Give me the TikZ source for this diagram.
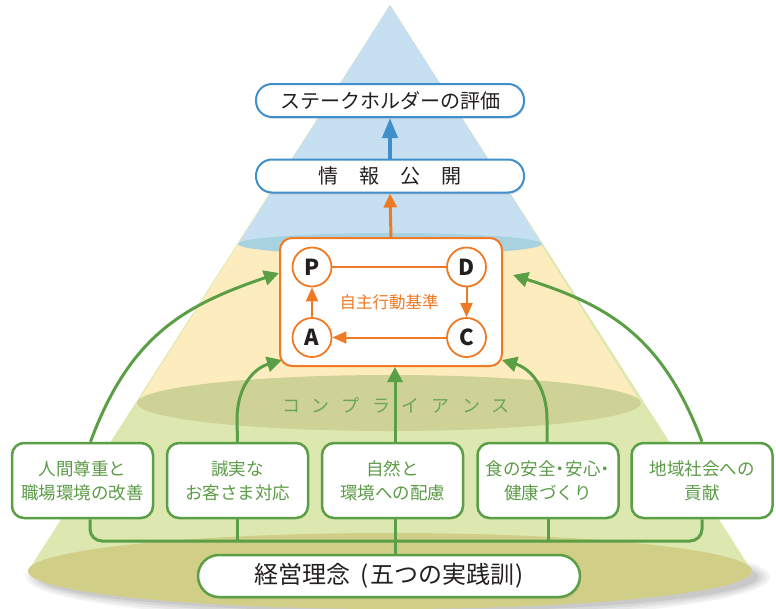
\documentclass[tikz,border=0pt]{standalone}
\usepackage{fontspec}
\setmainfont{Noto Sans CJK JP}
\usetikzlibrary{arrows.meta,shadows}
\definecolor{skyblue}{HTML}{C6DFF1}
\definecolor{skyring}{HTML}{A8D2E0}
\definecolor{cream}{HTML}{FDEDBE}
\definecolor{oliveA}{HTML}{CFD296}
\definecolor{leaf}{HTML}{DCE8B0}
\definecolor{oliveB}{HTML}{D1CF87}
\definecolor{grn}{HTML}{5A9E45}
\definecolor{grntext}{HTML}{5C9B47}
\definecolor{org}{HTML}{F07A24}
\definecolor{blu}{HTML}{3E8FCB}
\definecolor{ink}{HTML}{231F20}
\newcommand{\ndot}{\makebox[10pt]{・}}
\pgfdeclarelayer{back}
\pgfdeclarelayer{conn}
\pgfsetlayers{back,conn,main}
\begin{document}
\begin{tikzpicture}[x=1pt,y=-1pt,
  topbox/.style={draw=blu, line width=2pt, fill=white, rounded corners=16pt,
    minimum width=268pt, minimum height=33pt, inner sep=0pt,
    font=\fontsize{20}{24}\selectfont, text=ink,
    drop shadow={opacity=0.18, shadow xshift=1pt, shadow yshift=-2pt}},
  greenbox/.style={draw=grn, line width=2.5pt, fill=white, rounded corners=12pt,
    minimum width=141pt, minimum height=75pt, inner sep=0pt, align=center,
    font=\fontsize{17.5}{24}\selectfont, text=grntext},
  basebox/.style={draw=grn, line width=2.5pt, fill=white, rounded corners=21pt,
    minimum width=382pt, minimum height=42pt, inner sep=0pt,
    font=\fontsize{24}{26}\selectfont, text=ink,
    drop shadow={opacity=0.2, shadow xshift=1pt, shadow yshift=-2pt}},
  pdcabox/.style={draw=org, line width=2pt, fill=white, rounded corners=12pt,
    minimum width=222pt, minimum height=128pt, inner sep=0pt},
  circ/.style={circle, draw=org, line width=1.8pt, fill=white, minimum size=39pt,
    inner sep=0pt, font=\fontsize{22}{22}\selectfont\bfseries, text=ink},
  gline/.style={draw=grn, line width=3pt},
  garrow/.style={gline, -{Triangle[length=15pt,width=15pt]}},
  oline/.style={draw=org, line width=2pt},
  oarrow/.style={oline, -{Triangle[length=14pt,width=12pt]}},
  barrow/.style={draw=blu, line width=4pt, -{Triangle[length=20pt,width=15pt]}}
]
\useasboundingbox (0,0) rectangle (776,608);

% ---------- nodes ----------
\node[topbox] (eval) at (390,100.5) {ステークホルダーの評価};
\node[topbox] (info) at (390,176) {情\hspace{21pt}報\hspace{21pt}公\hspace{21pt}開};
\node[pdcabox] (pd) at (391,302) {};
\node[circ] (P) at (312,267) {P};
\node[circ] (D) at (466.5,267) {D};
\node[circ] (A) at (312,337.5) {A};
\node[circ] (C) at (466.5,337.5) {C};
\node[text=org, font=\fontsize{16.5}{18}\selectfont] (std) at (389,302) {自主行動基準};

\node[greenbox] (b1) at (82.5,480.5) {人間尊重と\\職場環境の改善};
\node[greenbox] (b2) at (237.5,480.5) {誠実な\\お客さま対応};
\node[greenbox] (b3) at (392.5,480.5) {自然と\\環境への配慮};
\node[greenbox] (b4) at (548,480.5) {食の安全\ndot 安心\ndot\\健康づくり};
\node[greenbox] (b5) at (702,480.5) {地域社会への\\貢献};
\node[basebox] (base) at (389,576) {経営理念\hspace{10pt}(\hspace{2pt}五つの実践訓\hspace{1pt})};

\node[text=grntext!90!white, font=\fontsize{18}{18}\selectfont] (comp) at (396,405)
  {コ\hspace{12pt}ン\hspace{12pt}プ\hspace{12pt}ラ\hspace{12pt}イ\hspace{12pt}ア\hspace{12pt}ン\hspace{12pt}ス};

\coordinate (bus) at (395,541);
\coordinate (cx) at ([xshift=4pt]pd.south);
\coordinate (t1) at ([yshift=29pt]pd.west);
\coordinate (t2) at (282,360);
\coordinate (t4) at (502,360);
\coordinate (t5) at ([xshift=10pt,yshift=27pt]pd.east);

% ---------- background cone ----------
\begin{pgfonlayer}{back}
  \foreach \k/\o in {0/0.05,1/0.05,2/0.06,3/0.07} {
    \fill[black, opacity=\o] (398,577) ellipse ({372-4*\k} and {44-3*\k});
  }
  \fill[leaf] (390,5) -- (28,571) -- (752,571) -- cycle;
  \fill[oliveB] (390,571) ellipse (362 and 38);
  \fill[cream] (390,5) -- (137,403) -- (641,403) -- cycle;
  \fill[oliveA] (389,403) ellipse (252 and 28);
  \fill[skyblue] (390,5) -- (238,244) -- (542,244) -- cycle;
  \fill[skyring] (390,244) ellipse (152 and 11);
\end{pgfonlayer}

% ---------- connectors ----------
\begin{pgfonlayer}{conn}
  \draw[gline, rounded corners=12pt] ([xshift=7.5pt]b1.south) |- (bus) -| (b5.south);
  \draw[gline] (b2.south) -- (b2.south |- bus);
  \draw[gline] (b4.south) -- (b4.south |- bus);
  \draw[garrow] (base.north -| cx) -- (cx);
  \draw[garrow] ([xshift=8pt]b1.north) .. controls (130,335) and (185,305) .. (t1);
  \draw[garrow] (b5.north) .. controls (662,335) and (607,305) .. (t5);
  \draw[garrow] (b2.north) -- (237,420) .. controls (237,385) and (255,368) .. (t2);
  \draw[garrow] ([xshift=-1pt]b4.north) -- (547,420) .. controls (547,385) and (529,368) .. (t4);
  \draw[draw=org, line width=3pt, -{Triangle[length=14pt,width=13pt]}] (pd.north) -- (info.south);
  \draw[barrow] (info.north) -- (eval.south);
\end{pgfonlayer}

\draw[oline] (P) -- (D);
\draw[oarrow] (D) -- (C);
\draw[oarrow] (C) -- (A);
\draw[oarrow] (A) -- (P);
\end{tikzpicture}
\end{document}
